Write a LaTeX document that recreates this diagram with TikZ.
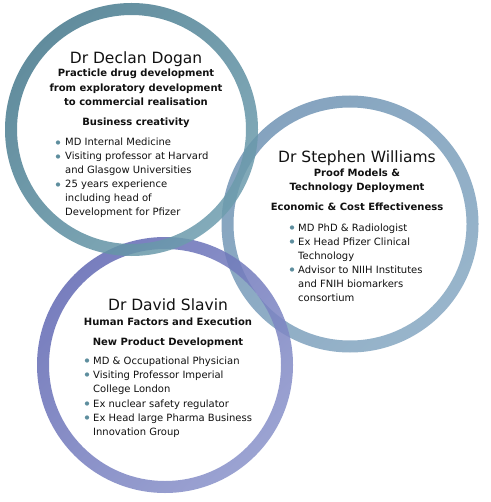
\documentclass[tikz,border=0pt]{standalone}
\usepackage{fontspec}
\setmainfont{DejaVu Sans}
\definecolor{ringA1}{HTML}{46798D}
\definecolor{ringA2}{HTML}{6E9DAE}
\definecolor{ringB1}{HTML}{7094B4}
\definecolor{ringB2}{HTML}{86A8C2}
\definecolor{ringC1}{HTML}{6168B3}
\definecolor{ringC2}{HTML}{8A93CA}
\definecolor{dotc}{HTML}{5E8E9E}
\definecolor{txt}{HTML}{111111}
\tikzset{
  nm/.style={font=\fontsize{15.5}{18}\selectfont, text=txt, inner sep=0pt, anchor=base},
  bd/.style={font=\bfseries\fontsize{10}{14}\selectfont, text=txt, inner sep=0pt, anchor=base},
  it/.style={font=\fontsize{10}{14}\selectfont, text=txt, inner sep=0pt, anchor=base west},
  bul/.style={circle, fill=dotc, inner sep=0pt, minimum size=4.3pt},
}
\newcommand\myring[6]{%
  \shade[even odd rule, top color=#5, bottom color=#6, shading angle=#4, fill opacity=0.85]
    (#1,#2) circle (#3+6) (#1,#2) circle (#3-6);}
\begin{document}
\begin{tikzpicture}[x=1pt,y=-1pt]
\useasboundingbox (0,0) rectangle (490,502);
\fill[white] (0,0) rectangle (490,502);
% rings
\myring{350}{224}{122.5}{45}{ringB1}{ringB2}
\myring{165}{365}{122}{45}{ringC1}{ringC2}
\myring{131.5}{129.5}{120.5}{45}{ringA1}{ringA2}
% circle 1 text
\node[nm] (n1) at (136,63.5) {Dr Declan Dogan};
\node[bd] (s1a) at (136,77) {Practicle drug development};
\node[bd] (s1b) at (136,91.5) {from exploratory development};
\node[bd] (s1c) at (136,105.5) {to commercial realisation};
\node[bd] (s1d) at (136,126) {Business creativity};
\node[bul] (b1a) at (58,142.5) {};
\node[it] (t1a) at (65,146) {MD Internal Medicine};
\node[bul] (b1b) at (58,156.5) {};
\node[it] (t1b) at (65,160) {Visiting professor at Harvard};
\node[it] (t1c) at (65,174) {and Glasgow Universities};
\node[bul] (b1c) at (58,184.5) {};
\node[it] (t1d) at (65,188) {25 years experience};
\node[it] (t1e) at (65,202) {including head of};
\node[it] (t1f) at (65,216) {Development for Pfizer};
% circle 2 text
\node[nm] (n2) at (357,162.5) {Dr Stephen Williams};
\node[bd] (s2a) at (357,177) {Proof Models \&};
\node[bd] (s2b) at (357,191) {Technology Deployment};
\node[bd] (s2c) at (357,211) {Economic \& Cost Effectiveness};
\node[bul] (b2a) at (292,227.5) {};
\node[it] (t2a) at (298,231) {MD PhD \& Radiologist};
\node[bul] (b2b) at (292,241.5) {};
\node[it] (t2b) at (298,245) {Ex Head Pfizer Clinical};
\node[it] (t2c) at (298,259) {Technology};
\node[bul] (b2c) at (292,269.5) {};
\node[it] (t2d) at (298,273) {Advisor to NIIH Institutes};
\node[it] (t2e) at (298,287) {and FNIH biomarkers};
\node[it] (t2f) at (298,301) {consortium};
% circle 3 text
\node[nm] (n3) at (168,310.5) {Dr David Slavin};
\node[bd] (s3a) at (168,325) {Human Factors and Execution};
\node[bd] (s3b) at (168,345) {New Product Development};
\node[bul] (b3a) at (87,360.5) {};
\node[it] (t3a) at (93,364) {MD \& Occupational Physician};
\node[bul] (b3b) at (87,374.5) {};
\node[it] (t3b) at (93,378) {Visiting Professor Imperial};
\node[it] (t3c) at (93,392) {College London};
\node[bul] (b3c) at (87,403.5) {};
\node[it] (t3d) at (93,407) {Ex nuclear safety regulator};
\node[bul] (b3d) at (87,417.5) {};
\node[it] (t3e) at (93,421) {Ex Head large Pharma Business};
\node[it] (t3f) at (93,435) {Innovation Group};
\end{tikzpicture}
\end{document}
